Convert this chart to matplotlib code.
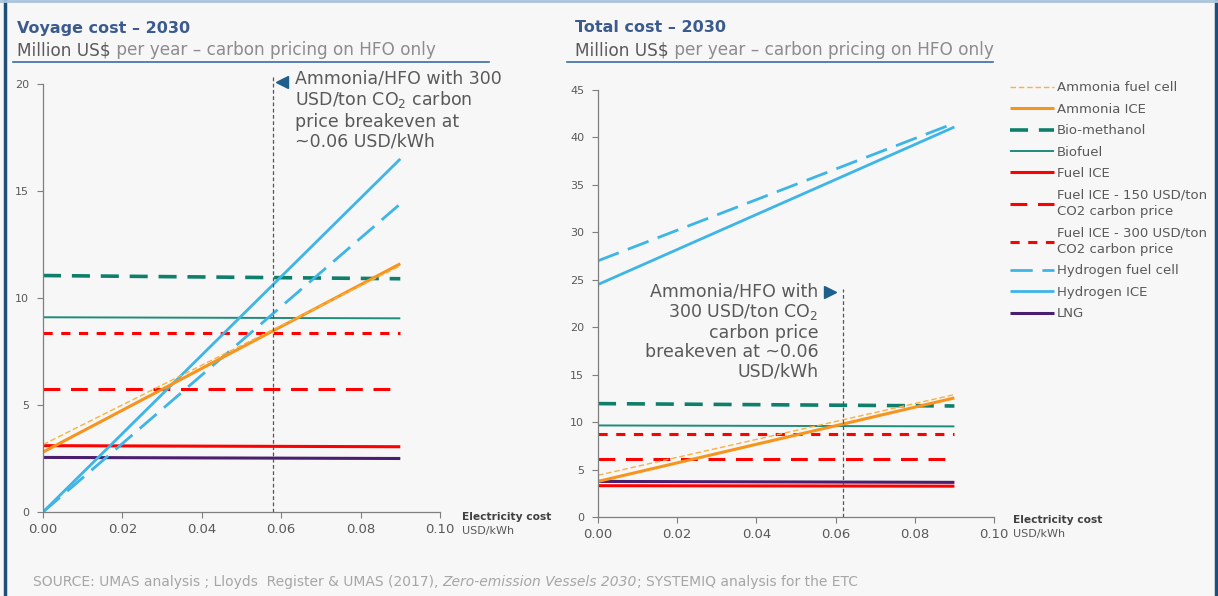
import matplotlib
matplotlib.use('Agg')
import matplotlib.pyplot as plt
from matplotlib.lines import Line2D
from matplotlib.text import Annotation

plt.rcParams['font.family'] = ['DejaVu Sans']

# Dados (custo da eletricidade USD/kWh nas pontas das linhas)
x_pts = [0.0, 0.09]

series = ['Ammonia fuel cell', 'Ammonia ICE', 'Bio-methanol', 'Biofuel', 'Fuel ICE',
          'Fuel ICE - 150 USD/ton\nCO2 carbon price', 'Fuel ICE - 300 USD/ton\nCO2 carbon price',
          'Hydrogen fuel cell', 'Hydrogen ICE', 'LNG']

voyage = {
    'Ammonia fuel cell': [3.15, 11.5],
    'Ammonia ICE': [2.8, 11.6],
    'Bio-methanol': [11.05, 10.9],
    'Biofuel': [9.1, 9.05],
    'Fuel ICE': [3.1, 3.05],
    'Fuel ICE - 150 USD/ton\nCO2 carbon price': [5.75, 5.75],
    'Fuel ICE - 300 USD/ton\nCO2 carbon price': [8.35, 8.35],
    'Hydrogen fuel cell': [0.0, 14.4],
    'Hydrogen ICE': [0.0, 16.5],
    'LNG': [2.55, 2.5],
}

total = {
    'Ammonia fuel cell': [4.4, 12.9],
    'Ammonia ICE': [3.75, 12.55],
    'Bio-methanol': [11.95, 11.7],
    'Biofuel': [9.65, 9.55],
    'Fuel ICE': [3.3, 3.25],
    'Fuel ICE - 150 USD/ton\nCO2 carbon price': [6.1, 6.1],
    'Fuel ICE - 300 USD/ton\nCO2 carbon price': [8.75, 8.75],
    'Hydrogen fuel cell': [27.0, 41.5],
    'Hydrogen ICE': [24.5, 41.1],
    'LNG': [3.75, 3.65],
}

# Estilos de cada série
estilos = {
    'Ammonia fuel cell': dict(color='#fbb040', lw=1.0, dashes=(4, 2)),
    'Ammonia ICE': dict(color='#f7941d', lw=2.2),
    'Bio-methanol': dict(color='#0e7f6b', lw=2.6, dashes=(5, 3)),
    'Biofuel': dict(color='#1e8c7a', lw=1.4),
    'Fuel ICE': dict(color='#ff0000', lw=2.2),
    'Fuel ICE - 150 USD/ton\nCO2 carbon price': dict(color='#ff0000', lw=2.2, dashes=(5.5, 3.5)),
    'Fuel ICE - 300 USD/ton\nCO2 carbon price': dict(color='#ff0000', lw=2.2, dashes=(3, 2.8)),
    'Hydrogen fuel cell': dict(color='#3db5e6', lw=2.0, dashes=(8, 3.5)),
    'Hydrogen ICE': dict(color='#3db5e6', lw=2.0),
    'LNG': dict(color='#4b1f6f', lw=2.2),
}

ordem_desenho = ['Biofuel', 'Bio-methanol', 'Fuel ICE - 300 USD/ton\nCO2 carbon price',
                 'Fuel ICE - 150 USD/ton\nCO2 carbon price', 'LNG', 'Fuel ICE',
                 'Hydrogen fuel cell', 'Hydrogen ICE', 'Ammonia ICE', 'Ammonia fuel cell']

cinza = '#595959'
azul_titulo = '#3b5b8f'

fig = plt.figure(figsize=(12.18, 5.96), dpi=100)
fig.patch.set_facecolor('#f7f7f7')

ax1 = fig.add_axes([43 / 1218, 1 - 512 / 596, 397 / 1218, 428 / 596])
ax2 = fig.add_axes([598 / 1218, 1 - 517 / 596, 396 / 1218, 427 / 596])

handles = {}
for ax, dados in [(ax1, voyage), (ax2, total)]:
    ax.set_facecolor('none')
    for nome in ordem_desenho:
        st = dict(estilos[nome])
        dashes = st.pop('dashes', None)
        linha, = ax.plot(x_pts, dados[nome], solid_capstyle='butt', **st)
        if dashes:
            linha.set_dashes(dashes)
            linha.set_dash_capstyle('butt')
        handles[nome] = linha
    ax.set_xlim(0, 0.10)
    ax.set_xticks([0, 0.02, 0.04, 0.06, 0.08, 0.10])
    ax.set_xticklabels(['0.00', '0.02', '0.04', '0.06', '0.08', '0.10'])
    for s in ['top', 'right']:
        ax.spines[s].set_visible(False)
    for s in ['left', 'bottom']:
        ax.spines[s].set_color('#7f7f7f')
        ax.spines[s].set_linewidth(0.9)
    ax.tick_params(axis='x', colors='#7f7f7f', labelcolor=cinza, labelsize=9.5, length=4, pad=4)
    ax.tick_params(axis='y', colors='#7f7f7f', labelcolor=cinza, labelsize=8, length=4, pad=6)

ax1.set_ylim(0, 20)
ax1.set_yticks([0, 5, 10, 15, 20])
ax2.set_ylim(0, 45)
ax2.set_yticks(range(0, 50, 5))

# Linhas verticais de breakeven
ax1.plot([0.058, 0.058], [0, 20.4], color='#555555', lw=0.9, ls=(0, (3, 2)), clip_on=False)
ax2.plot([0.0618, 0.0618], [0, 24.0], color='#555555', lw=0.9, ls=(0, (3, 2)), clip_on=False)

# Anotações
ax1.plot([0.0603], [20.1], marker='<', color='#1f5f8b', ms=8, clip_on=False)
ax1.text(0.0635, 20.7, 'Ammonia/HFO with 300\nUSD/ton CO$_2$ carbon\nprice breakeven at\n~0.06 USD/kWh',
         fontsize=12.5, color=cinza, va='top', ha='left', linespacing=1.15)
ax2.plot([0.0585], [23.7], marker='>', color='#1f5f8b', ms=8)
ax2.text(0.0556, 24.7, 'Ammonia/HFO with\n300 USD/ton CO$_2$\ncarbon price\nbreakeven at ~0.06\nUSD/kWh',
         fontsize=12.5, color=cinza, va='top', ha='right', multialignment='right', linespacing=1.1)

# Rótulos do eixo x
for xp, yp in [(462, 517), (1013, 520)]:
    fig.text(xp / 1218, 1 - yp / 596, 'Electricity cost', fontsize=7.7, fontweight='bold',
             color='#404040', va='center', ha='left')
    fig.text(xp / 1218, 1 - (yp + 14) / 596, 'USD/kWh', fontsize=8, color=cinza,
             va='center', ha='left')

# Títulos e subtítulos
for xp, titulo, x0, x1 in [(17, 'Voyage cost – 2030', 13, 489), (575, 'Total cost – 2030', 567, 993)]:
    fig.text(xp / 1218, 1 - 28 / 596, titulo, fontsize=11.5, fontweight='bold',
             color=azul_titulo, va='center', ha='left')
    t = fig.text(xp / 1218, 1 - 50 / 596, 'Million US$', fontsize=12.2, color='#595959',
                 va='center', ha='left')
    fig.add_artist(Annotation(' per year – carbon pricing on HFO only',
                              xy=(1, 0.5), xycoords=t, va='center', ha='left',
                              fontsize=12.2, color='#8c8c8c'))
    fig.add_artist(Line2D([x0 / 1218, x1 / 1218], [1 - 62 / 596, 1 - 62 / 596],
                          color='#3a6ea5', lw=1.2, transform=fig.transFigure))

# Legenda
leg = fig.legend([handles[n] for n in series], series,
                 loc='upper left', bbox_to_anchor=(1005 / 1218, 1 - 76 / 596),
                 frameon=False, fontsize=9.5, handlelength=3.3, handletextpad=0.25,
                 labelspacing=0.64, borderaxespad=0)
for txt in leg.get_texts():
    txt.set_color(cinza)
    txt.set_linespacing(1.35)

# Fonte
fonte = fig.text(33 / 1218, 1 - 582 / 596,
                 'SOURCE: UMAS analysis ; Lloyds  Register & UMAS (2017), ',
                 fontsize=10, color='#a6a6a6', va='center', ha='left')
it = fig.add_artist(Annotation('Zero-emission Vessels 2030', xy=(1, 0.5),
                               xycoords=fonte, va='center', ha='left',
                               fontsize=10, color='#a6a6a6', style='italic'))
fig.add_artist(Annotation('; SYSTEMIQ analysis for the ETC', xy=(1, 0.5),
                          xycoords=it, va='center', ha='left',
                          fontsize=10, color='#a6a6a6'))

# Bordas do quadro
fig.add_artist(Line2D([4.5 / 1218, 4.5 / 1218], [0, 1], color='#1f4e79', lw=2.5))
fig.add_artist(Line2D([1215.5 / 1218, 1215.5 / 1218], [0, 1], color='#1f4e79', lw=2.5))
fig.add_artist(Line2D([0, 1], [1 - 1 / 596, 1 - 1 / 596], color='#a9c4dd', lw=2))

fig.savefig('out.png', dpi=100, facecolor=fig.get_facecolor())
